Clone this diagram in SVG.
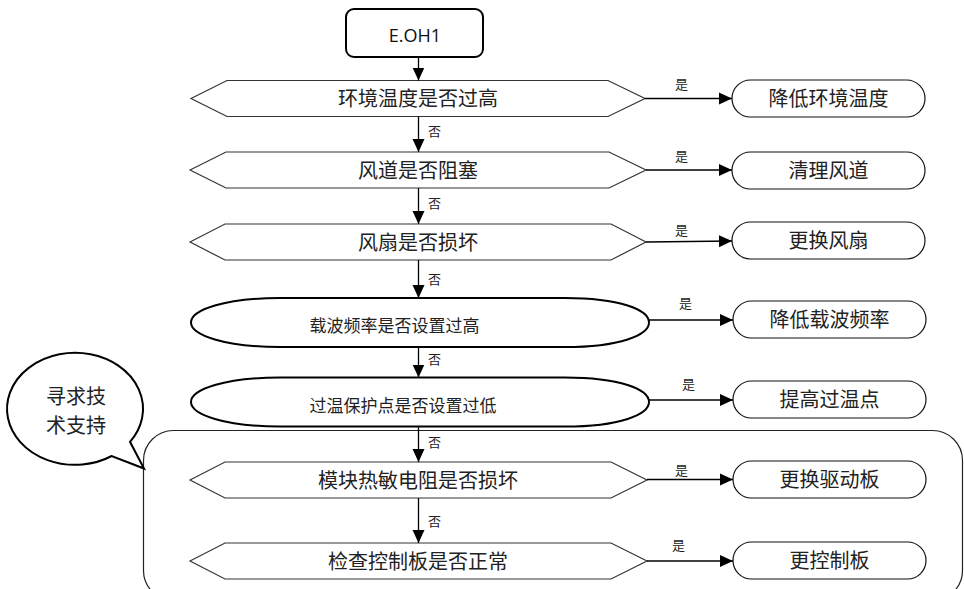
<svg xmlns="http://www.w3.org/2000/svg" width="964" height="589" viewBox="0 0 964 589">
<style>
  .hex { fill: #fff; stroke: #333; stroke-width: 1.2; }
  .oval { fill: #fff; stroke: #000; stroke-width: 2; }
  .term { fill: #fff; stroke: #111; stroke-width: 1.2; }
  .t { font-family: "Noto Sans CJK SC", "Noto Sans", sans-serif; font-size: 20px; fill: #222; text-anchor: middle; }
  .tm { font-family: "Noto Sans CJK SC", "Noto Sans", sans-serif; font-size: 17px; fill: #222; }
  .lab { font-family: "Noto Sans CJK SC", "Noto Sans", sans-serif; font-size: 13px; fill: #222; }
  .con line { stroke: #000; stroke-width: 1.3; fill: none; }
</style>
<defs>
  <marker id="arr" markerUnits="userSpaceOnUse" markerWidth="14" markerHeight="14" viewBox="0 0 14 14" refX="13" refY="7" orient="auto">
    <path d="M0,1 L13,7 L0,13 Z" fill="#000"/>
  </marker>
</defs>
<rect width="964" height="589" fill="#fff"/>

<!-- container -->
<g id="container">
  <rect x="143.5" y="430.5" width="819" height="170" rx="30" ry="30" fill="none" stroke="#222" stroke-width="1.2"/>
</g>

<!-- speech bubble -->
<g id="bubble">
  <path d="M130,441.8 A68,56 0 1 0 111.7,456 L144,468.5 Z" fill="#fff" stroke="#000" stroke-width="2" stroke-linejoin="miter"/>
  <text class="t" x="76" y="404">寻求技</text>
  <text class="t" x="76" y="433">术支持</text>
</g>

<g id="start">
  <rect x="346" y="9" width="137" height="48" rx="8" ry="8" fill="#fff" stroke="#000" stroke-width="2"/>
  <text x="415" y="42" font-family="'Open Sans', 'Liberation Sans', sans-serif" font-size="18" fill="#111" text-anchor="middle">E.OH1</text>
</g>

<g id="d1">
  <polygon class="hex" points="191,98.5 227,80.5 608,80.5 645,98.5 608,116.5 227,116.5"/>
  <text class="t" x="418" y="106">环境温度是否过高</text>
</g>
<g id="d2">
  <polygon class="hex" points="190,170 226,152 609,152 646,170 609,188 226,188"/>
  <text class="t" x="418" y="177.6">风道是否阻塞</text>
</g>
<g id="d3">
  <polygon class="hex" points="190,242 225,224 611,224 646,242 611,260 225,260"/>
  <text class="t" x="418" y="249.6">风扇是否损坏</text>
</g>
<g id="d4">
  <path class="oval" d="M280,298 L565,298 C620,298 649,310 649,322.5 C649,335 620,347 565,347 L280,347 C225,347 191,335 191,322.5 C191,310 225,298 280,298 Z"/>
  <text class="tm" x="309.5" y="331.5">载波频率是否设置过高</text>
</g>
<g id="d5">
  <path class="oval" d="M280,377.5 L565,377.5 C620,377.5 649,389.5 649,402 C649,414.5 620,426.5 565,426.5 L280,426.5 C225,426.5 191,414.5 191,402 C191,389.5 225,377.5 280,377.5 Z"/>
  <text class="tm" x="309.5" y="411.5">过温保护点是否设置过低</text>
</g>
<g id="d6">
  <polygon class="hex" points="190,480 225,462 611,462 647,480 611,498 225,498"/>
  <text class="t" x="418" y="487.6">模块热敏电阻是否损坏</text>
</g>
<g id="d7">
  <polygon class="hex" points="190,561 225,543 611,543 647,561 611,579 225,579"/>
  <text class="t" x="418" y="568.6">检查控制板是否正常</text>
</g>

<g id="r1"><rect class="term" x="732" y="80" width="193" height="37" rx="18.5"/><text class="t" x="828.5" y="106">降低环境温度</text></g>
<g id="r2"><rect class="term" x="732" y="152" width="193" height="37" rx="18.5"/><text class="t" x="828.5" y="178">清理风道</text></g>
<g id="r3"><rect class="term" x="732" y="222" width="193" height="37" rx="18.5"/><text class="t" x="828.5" y="248">更换风扇</text></g>
<g id="r4"><rect class="term" x="733" y="301" width="193" height="37" rx="18.5"/><text class="t" x="829.5" y="327">降低载波频率</text></g>
<g id="r5"><rect class="term" x="733" y="381" width="193" height="37" rx="18.5"/><text class="t" x="829.5" y="407">提高过温点</text></g>
<g id="r6"><rect class="term" x="733" y="461" width="193" height="37" rx="18.5"/><text class="t" x="829.5" y="487">更换驱动板</text></g>
<g id="r7"><rect class="term" x="733" y="542" width="193" height="37" rx="18.5"/><text class="t" x="829.5" y="568">更控制板</text></g>

<g id="connectors" class="con">
  <line x1="418.5" y1="57" x2="418.5" y2="80.5" marker-end="url(#arr)"/>
  <line x1="418.5" y1="116.5" x2="418.5" y2="152" marker-end="url(#arr)"/>
  <line x1="418.5" y1="188" x2="418.5" y2="224" marker-end="url(#arr)"/>
  <line x1="418.5" y1="260" x2="418.5" y2="298" marker-end="url(#arr)"/>
  <line x1="418.5" y1="347" x2="418.5" y2="377.5" marker-end="url(#arr)"/>
  <line x1="418.5" y1="426.5" x2="418.5" y2="462" marker-end="url(#arr)"/>
  <line x1="418.5" y1="498" x2="418.5" y2="543" marker-end="url(#arr)"/>

  <line x1="645" y1="98.5" x2="732" y2="98.5" marker-end="url(#arr)"/>
  <line x1="646" y1="170" x2="732" y2="170" marker-end="url(#arr)"/>
  <line x1="646" y1="242" x2="732" y2="241" marker-end="url(#arr)"/>
  <line x1="649" y1="320" x2="733" y2="320" marker-end="url(#arr)"/>
  <line x1="649" y1="400" x2="733" y2="400" marker-end="url(#arr)"/>
  <line x1="647" y1="479.5" x2="733" y2="479.5" marker-end="url(#arr)"/>
  <line x1="647" y1="561" x2="733" y2="561" marker-end="url(#arr)"/>
</g>

<g id="labels">
  <text class="lab" x="428" y="136">否</text>
  <text class="lab" x="428" y="208">否</text>
  <text class="lab" x="428" y="284">否</text>
  <text class="lab" x="428" y="364">否</text>
  <text class="lab" x="428" y="447">否</text>
  <text class="lab" x="428" y="526">否</text>

  <text class="lab" x="675" y="89">是</text>
  <text class="lab" x="675" y="161">是</text>
  <text class="lab" x="675" y="235">是</text>
  <text class="lab" x="679" y="308">是</text>
  <text class="lab" x="682" y="389">是</text>
  <text class="lab" x="675" y="475">是</text>
  <text class="lab" x="672" y="550">是</text>
</g>
</svg>
